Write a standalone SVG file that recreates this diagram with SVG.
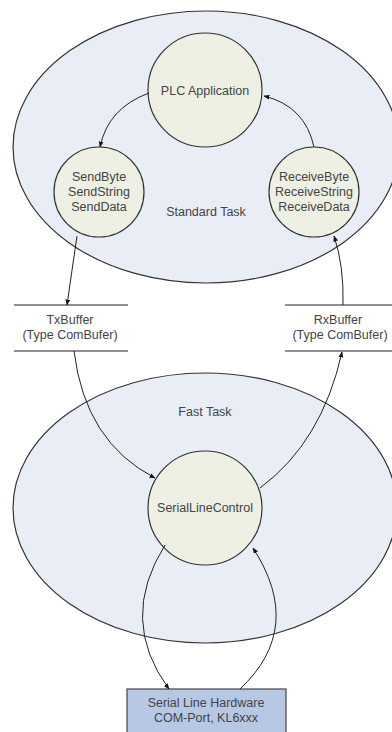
<svg xmlns="http://www.w3.org/2000/svg" width="392" height="732" viewBox="0 0 392 732">
<defs>
<style>
.task{fill:#e9edf6;stroke:#333;stroke-width:1.2}
.proc{fill:#eef0e3;stroke:#333;stroke-width:1.2}
.buf{stroke:#222;stroke-width:1.2}
.hw{fill:#b6c8e4;stroke:#444;stroke-width:1.2}
.conn{fill:none;stroke:#222;stroke-width:1}
text{font-family:"Liberation Sans",Arial,sans-serif;font-size:12.5px;fill:#444;text-anchor:middle}
</style>
<marker id="ah" viewBox="0 0 10 10" refX="9" refY="5" markerWidth="6" markerHeight="6" orient="auto" markerUnits="userSpaceOnUse">
<path d="M0,1 L10,5 L0,9 z" fill="#111"/>
</marker>
</defs>
<rect width="392" height="732" fill="#fff"/>
<g id="standard-task">
<ellipse class="task" cx="206" cy="147" rx="193" ry="136"/>
<text x="206" y="216">Standard Task</text>
</g>
<g id="fast-task">
<ellipse class="task" cx="205" cy="508" rx="192" ry="135"/>
<text x="205" y="416">Fast Task</text>
</g>
<g id="plc-application">
<circle class="proc" cx="205" cy="90" r="57"/>
<text x="205" y="95">PLC Application</text>
</g>
<g id="send">
<circle class="proc" cx="99" cy="192" r="45"/>
<text x="99" y="181">SendByte</text>
<text x="99" y="196">SendString</text>
<text x="99" y="211">SendData</text>
</g>
<g id="receive">
<circle class="proc" cx="314" cy="192" r="45"/>
<text x="314" y="181">ReceiveByte</text>
<text x="314" y="196">ReceiveString</text>
<text x="314" y="211">ReceiveData</text>
</g>
<g id="txbuffer">
<line class="buf" x1="14" y1="305" x2="128" y2="305"/>
<line class="buf" x1="14" y1="351" x2="128" y2="351"/>
<text x="70" y="324">TxBuffer</text>
<text x="70" y="339">(Type ComBufer)</text>
</g>
<g id="rxbuffer">
<line class="buf" x1="285" y1="305" x2="392" y2="305"/>
<line class="buf" x1="285" y1="351" x2="392" y2="351"/>
<text x="338" y="324">RxBuffer</text>
<text x="340" y="339">(Type ComBufer)</text>
</g>
<g id="serial-line-control">
<circle class="proc" cx="205" cy="508" r="57"/>
<text x="205" y="512">SerialLineControl</text>
</g>
<g id="hardware">
<rect class="hw" x="127" y="689" width="159" height="50"/>
<text x="206" y="707">Serial Line Hardware</text>
<text x="206" y="722">COM-Port, KL6xxx</text>
</g>
<g id="connectors">
<path class="conn" marker-end="url(#ah)" d="M149,93 Q108,108 100,147"/>
<path class="conn" marker-end="url(#ah)" d="M314,147 Q305,106 264,96"/>
<path class="conn" marker-end="url(#ah)" d="M77,236 Q72,270 67,305"/>
<path class="conn" marker-end="url(#ah)" d="M343,305 Q344,265 334,236"/>
<path class="conn" marker-end="url(#ah)" d="M74,351 Q85,442 155,478"/>
<path class="conn" marker-end="url(#ah)" d="M260,488 Q322,442 342,352"/>
<path class="conn" marker-end="url(#ah)" d="M165,545 Q118,620 169,689"/>
<path class="conn" marker-end="url(#ah)" d="M240,689 Q305,628 253,548"/>
</g>
</svg>
